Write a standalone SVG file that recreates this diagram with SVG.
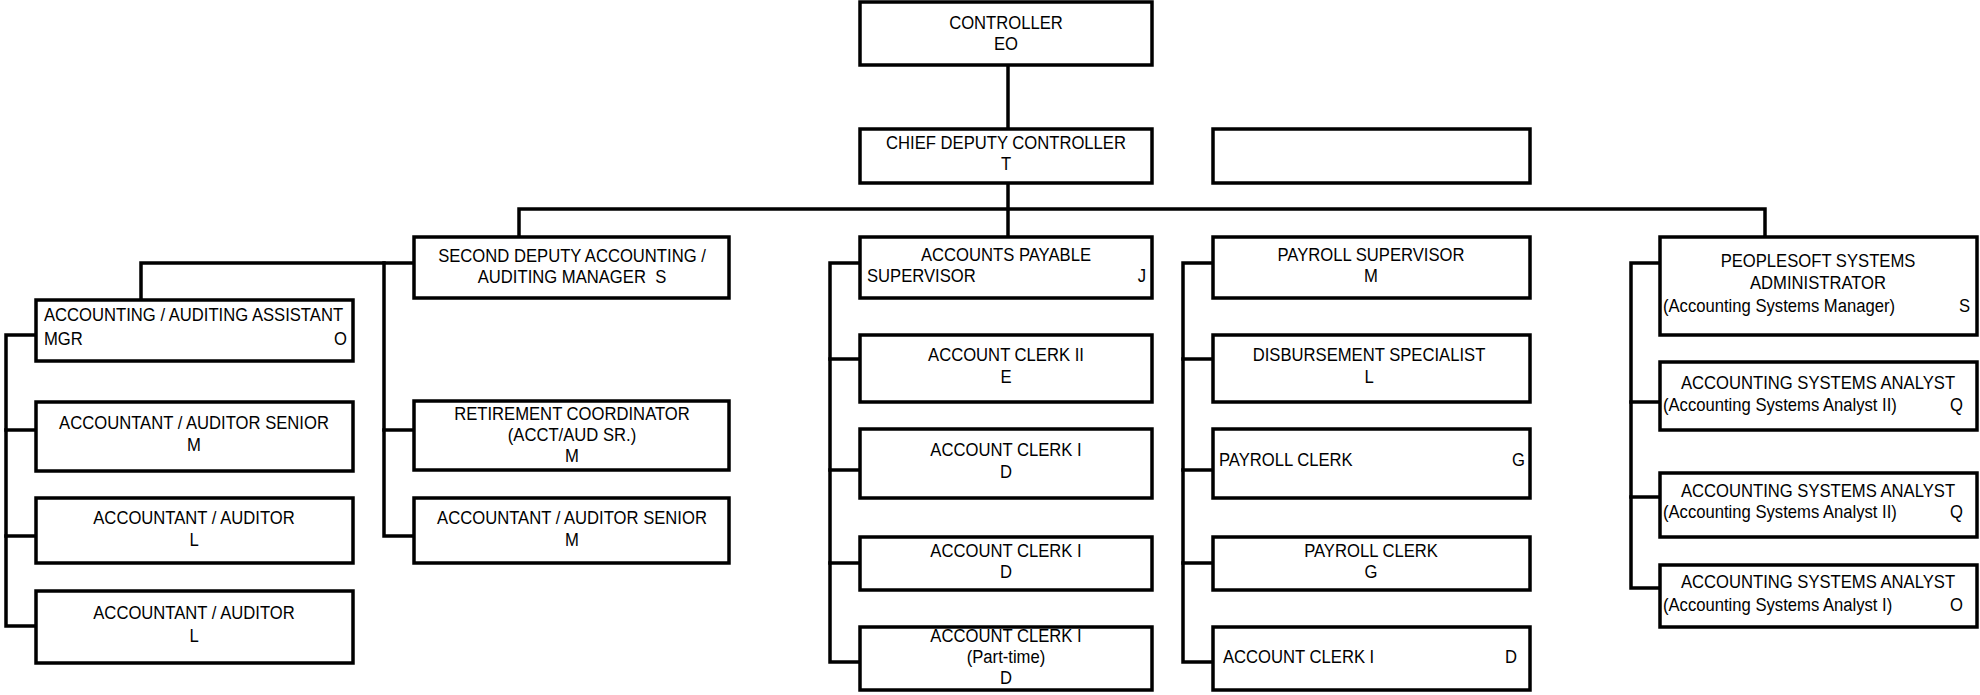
<svg xmlns="http://www.w3.org/2000/svg" width="1980" height="695" viewBox="0 0 1980 695">
  <style>
    .box { fill: #ffffff; stroke: #000000; stroke-width: 3.5; }
    .wire { fill: none; stroke: #000000; stroke-width: 3.5; stroke-linejoin: miter; stroke-linecap: square; }
    /* condensed sans: regular face narrowed about its own anchor point */
    text { font-family: "Liberation Sans", Arial, sans-serif; font-size: 18.5px; fill: #000000;
           transform-box: fill-box; transform: scaleX(0.9); }
    .c { text-anchor: middle; transform-origin: 50% 50%; }
    .l { text-anchor: start; transform-origin: 0% 50%; }
    .r { text-anchor: end; transform-origin: 100% 50%; }
  </style>
  <rect width="1980" height="695" fill="#ffffff"/>

  <!-- reporting lines -->
  <g id="connectors">
    <path class="wire" d="M1008 66 V129"/>
    <path class="wire" d="M1008 183 V237"/>
    <path class="wire" d="M519 237 V209 H1765 V237"/>
    <!-- second deputy branch -->
    <path class="wire" d="M414 263 H141 V300"/>
    <path class="wire" d="M384 263 V536 H414"/>
    <path class="wire" d="M384 430 H414"/>
    <!-- assistant manager branch -->
    <path class="wire" d="M36 335 H6 V626 H36"/>
    <path class="wire" d="M6 430 H36"/>
    <path class="wire" d="M6 536 H36"/>
    <!-- accounts payable branch -->
    <path class="wire" d="M860 263 H830 V662 H860"/>
    <path class="wire" d="M830 359 H860"/>
    <path class="wire" d="M830 470 H860"/>
    <path class="wire" d="M830 563 H860"/>
    <!-- payroll branch -->
    <path class="wire" d="M1213 263 H1183 V662 H1213"/>
    <path class="wire" d="M1183 359 H1213"/>
    <path class="wire" d="M1183 470 H1213"/>
    <path class="wire" d="M1183 563 H1213"/>
    <!-- systems branch -->
    <path class="wire" d="M1660 263 H1631 V588 H1660"/>
    <path class="wire" d="M1631 402 H1660"/>
    <path class="wire" d="M1631 497 H1660"/>
  </g>

  <g id="controller">
    <rect class="box" x="860" y="2" width="292" height="63"/>
    <text class="c" x="1006" y="29">CONTROLLER</text>
    <text class="c" x="1006" y="50">EO</text>
  </g>
  <g id="chief-deputy">
    <rect class="box" x="860" y="129" width="292" height="54"/>
    <text class="c" x="1006" y="149">CHIEF DEPUTY CONTROLLER</text>
    <text class="c" x="1006" y="170">T</text>
  </g>
  <g id="blank-position">
    <rect class="box" x="1213" y="129" width="317" height="54"/>
  </g>

  <g id="second-deputy">
    <rect class="box" x="414" y="237" width="315" height="61"/>
    <text class="c" x="572" y="262">SECOND DEPUTY ACCOUNTING /</text>
    <text class="c" x="572" y="283">AUDITING MANAGER&#160; S</text>
  </g>
  <g id="ap-supervisor">
    <rect class="box" x="860" y="237" width="292" height="61"/>
    <text class="c" x="1006" y="261">ACCOUNTS PAYABLE</text>
    <text class="l" x="867" y="282">SUPERVISOR</text>
    <text class="r" x="1146" y="282">J</text>
  </g>
  <g id="payroll-supervisor">
    <rect class="box" x="1213" y="237" width="317" height="61"/>
    <text class="c" x="1371" y="261">PAYROLL SUPERVISOR</text>
    <text class="c" x="1371" y="282">M</text>
  </g>
  <g id="peoplesoft-admin">
    <rect class="box" x="1660" y="237" width="317" height="98"/>
    <text class="c" x="1818" y="267">PEOPLESOFT SYSTEMS</text>
    <text class="c" x="1818" y="289">ADMINISTRATOR</text>
    <text class="l" x="1663" y="312">(Accounting Systems Manager)</text>
    <text class="r" x="1970" y="312">S</text>
  </g>

  <g id="assistant-manager">
    <rect class="box" x="36" y="300" width="317" height="61"/>
    <text class="l" x="44" y="321">ACCOUNTING / AUDITING ASSISTANT</text>
    <text class="l" x="44" y="345">MGR</text>
    <text class="r" x="347" y="345">O</text>
  </g>
  <g id="auditor-senior-1">
    <rect class="box" x="36" y="402" width="317" height="69"/>
    <text class="c" x="194" y="429">ACCOUNTANT / AUDITOR SENIOR</text>
    <text class="c" x="194" y="451">M</text>
  </g>
  <g id="auditor-1">
    <rect class="box" x="36" y="498" width="317" height="65"/>
    <text class="c" x="194" y="524">ACCOUNTANT / AUDITOR</text>
    <text class="c" x="194" y="546">L</text>
  </g>
  <g id="auditor-2">
    <rect class="box" x="36" y="591" width="317" height="72"/>
    <text class="c" x="194" y="619">ACCOUNTANT / AUDITOR</text>
    <text class="c" x="194" y="642">L</text>
  </g>

  <g id="retirement-coordinator">
    <rect class="box" x="414" y="401" width="315" height="69"/>
    <text class="c" x="572" y="420">RETIREMENT COORDINATOR</text>
    <text class="c" x="572" y="441">(ACCT/AUD SR.)</text>
    <text class="c" x="572" y="462">M</text>
  </g>
  <g id="auditor-senior-2">
    <rect class="box" x="414" y="498" width="315" height="65"/>
    <text class="c" x="572" y="524">ACCOUNTANT / AUDITOR SENIOR</text>
    <text class="c" x="572" y="546">M</text>
  </g>

  <g id="account-clerk-2">
    <rect class="box" x="860" y="335" width="292" height="67"/>
    <text class="c" x="1006" y="361">ACCOUNT CLERK II</text>
    <text class="c" x="1006" y="383">E</text>
  </g>
  <g id="account-clerk-1a">
    <rect class="box" x="860" y="429" width="292" height="69"/>
    <text class="c" x="1006" y="456">ACCOUNT CLERK I</text>
    <text class="c" x="1006" y="478">D</text>
  </g>
  <g id="account-clerk-1b">
    <rect class="box" x="860" y="537" width="292" height="53"/>
    <text class="c" x="1006" y="557">ACCOUNT CLERK I</text>
    <text class="c" x="1006" y="578">D</text>
  </g>
  <g id="account-clerk-1-part-time">
    <rect class="box" x="860" y="627" width="292" height="63"/>
    <text class="c" x="1006" y="642">ACCOUNT CLERK I</text>
    <text class="c" x="1006" y="663">(Part-time)</text>
    <text class="c" x="1006" y="684">D</text>
  </g>

  <g id="disbursement-specialist">
    <rect class="box" x="1213" y="335" width="317" height="67"/>
    <text class="c" x="1369" y="361">DISBURSEMENT SPECIALIST</text>
    <text class="c" x="1369" y="383">L</text>
  </g>
  <g id="payroll-clerk-a">
    <rect class="box" x="1213" y="429" width="317" height="69"/>
    <text class="l" x="1219" y="466">PAYROLL CLERK</text>
    <text class="r" x="1525" y="466">G</text>
  </g>
  <g id="payroll-clerk-b">
    <rect class="box" x="1213" y="537" width="317" height="53"/>
    <text class="c" x="1371" y="557">PAYROLL CLERK</text>
    <text class="c" x="1371" y="578">G</text>
  </g>
  <g id="payroll-account-clerk">
    <rect class="box" x="1213" y="627" width="317" height="63"/>
    <text class="l" x="1223" y="663">ACCOUNT CLERK I</text>
    <text class="r" x="1517" y="663">D</text>
  </g>

  <g id="systems-analyst-a">
    <rect class="box" x="1660" y="362" width="317" height="68"/>
    <text class="c" x="1818" y="389">ACCOUNTING SYSTEMS ANALYST</text>
    <text class="l" x="1663" y="411">(Accounting Systems Analyst II)</text>
    <text class="r" x="1963" y="411">Q</text>
  </g>
  <g id="systems-analyst-b">
    <rect class="box" x="1660" y="473" width="317" height="64"/>
    <text class="c" x="1818" y="497">ACCOUNTING SYSTEMS ANALYST</text>
    <text class="l" x="1663" y="518">(Accounting Systems Analyst II)</text>
    <text class="r" x="1963" y="518">Q</text>
  </g>
  <g id="systems-analyst-c">
    <rect class="box" x="1660" y="565" width="317" height="62"/>
    <text class="c" x="1818" y="588">ACCOUNTING SYSTEMS ANALYST</text>
    <text class="l" x="1663" y="611">(Accounting Systems Analyst I)</text>
    <text class="r" x="1963" y="611">O</text>
  </g>
</svg>
